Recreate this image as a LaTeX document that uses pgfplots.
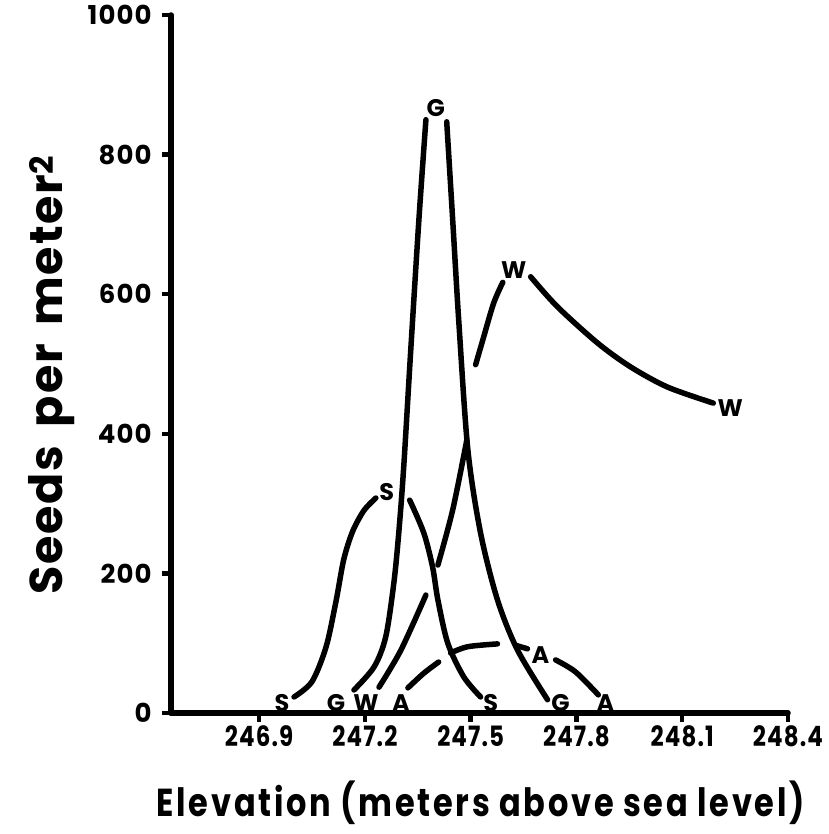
\documentclass[border=0pt]{standalone}
\usepackage{fontspec}
\setmainfont{Poppins}
\newfontfamily\condfont{Poppins}[FakeStretch=0.82, LetterSpace=4]
\newfontfamily\xlabfont{Poppins}[FakeStretch=0.82, LetterSpace=7]
\newfontfamily\tickfont{Poppins}[LetterSpace=4]
\newfontfamily\ylabfont{Poppins}[LetterSpace=4, WordSpace=1.6]
\usepackage{pgfplots}
\pgfplotsset{compat=1.18}
\begin{document}
\begin{tikzpicture}
\useasboundingbox (-171pt,-121pt) rectangle (657pt,713pt);
\begin{axis}[
  scale only axis, width=617pt, height=698pt,
  xmin=246.65, xmax=248.4, ymin=0, ymax=1000,
  axis lines=left,
  axis line style={-, line width=5.5pt, line cap=round},
  clip=false,
  xtick={246.9,247.2,247.5,247.8,248.1,248.4},
  xticklabels={246.9,247.2,247.5,247.8,248.1,248.4},
  ytick={0,200,400,600,800,1000},
  yticklabels={0,200,400,600,800,1000},
  tick align=outside, major tick length=9pt,
  tick style={line width=4.5pt, black},
  xticklabel style={font=\condfont\bfseries\fontsize{28}{28}\selectfont, anchor=north, yshift=0pt},
  yticklabel style={font=\tickfont\bfseries\fontsize{26}{26}\selectfont, anchor=east, xshift=-7pt},
  xlabel={Elevation (meters above sea level)},
  xlabel style={font=\xlabfont\bfseries\fontsize{39}{39}\selectfont, at={(axis description cs:0.502,0)}, anchor=center, yshift=-90pt},
  ylabel={Seeds per meter\textsuperscript{2}},
  ylabel style={font=\ylabfont\bfseries\fontsize{46}{46}\selectfont, at={(axis description cs:-0.193,0.484)}, anchor=center},
  every axis plot/.append style={line width=5.5pt, line cap=round, black},
  nodes near coords style={font=\bfseries\fontsize{24}{24}\selectfont, anchor=center, inner sep=0pt},
]
% S curve
\addplot[smooth] coordinates {(246.999,23) (247.050,45) (247.090,95) (247.118,160) (247.140,220) (247.165,260) (247.197,290) (247.231,308)};
\addplot[smooth] coordinates {(247.327,305) (247.367,258) (247.392,209) (247.407,162) (247.435,100) (247.480,52) (247.528,23)};
% G curve
\addplot[smooth] coordinates {(247.169,33) (247.226,66) (247.259,109) (247.282,186) (247.296,258) (247.310,352) (247.330,520) (247.353,706) (247.373,850)};
\addplot[smooth] coordinates {(247.432,847) (247.449,706) (247.466,563) (247.492,377) (247.528,258) (247.576,162) (247.633,90) (247.718,19)};
% W curve
\addplot[smooth] coordinates {(247.240,37) (247.302,90) (247.373,169)};
\addplot[smooth] coordinates {(247.407,212) (247.449,291) (247.489,391)};
\addplot[smooth] coordinates {(247.514,499) (247.537,539) (247.565,587) (247.591,617)};
\addplot[smooth] coordinates {(247.670,625) (247.746,582) (247.860,530) (247.953,496) (248.058,467) (248.188,444)};
% A curve
\addplot[smooth] coordinates {(247.322,36) (247.367,57) (247.409,73)};
\addplot[smooth] coordinates {(247.443,86) (247.492,95) (247.576,99)};
\addplot[smooth] coordinates {(247.627,97) (247.661,92)};
\addplot[smooth] coordinates {(247.741,76) (247.797,59) (247.862,26)};
% letter labels
\addplot[draw=none, mark=none, nodes near coords, point meta=explicit symbolic] coordinates {
  (246.965,14)[S] (247.262,317)[S] (247.557,14)[S]
  (247.118,14)[G] (247.401,867)[G] (247.755,14)[G]
  (247.203,14)[W] (247.622,635)[W] (248.236,437)[W]
  (247.302,14)[A] (247.698,83)[A] (247.882,14)[A]
};
\end{axis}
\end{tikzpicture}
\end{document}
